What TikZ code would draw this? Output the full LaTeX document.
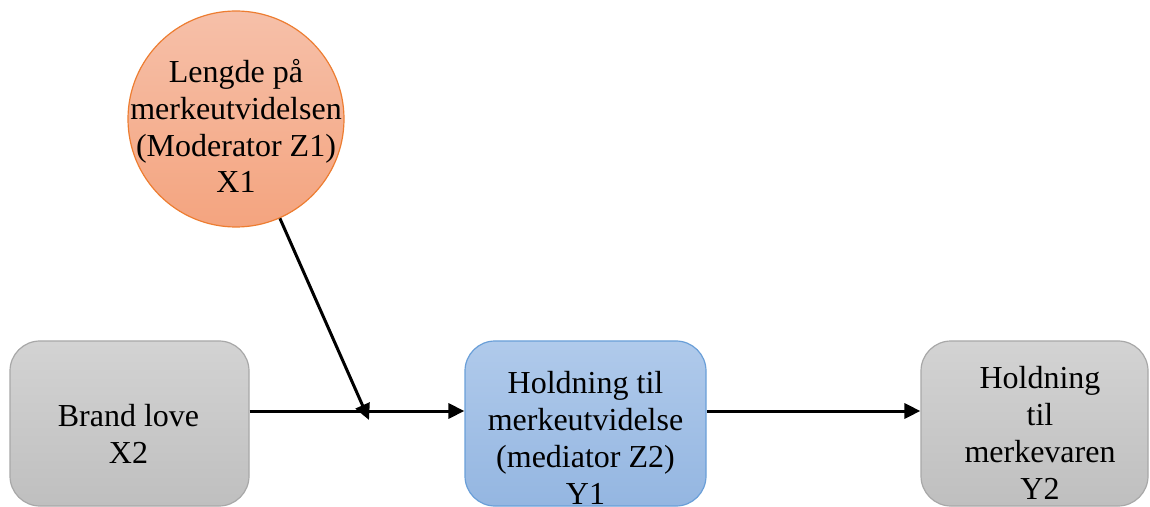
\documentclass[tikz,border=0pt]{standalone}
\usepackage{fontspec}
\setmainfont{Liberation Serif}
\usetikzlibrary{arrows.meta}

\definecolor{orangeline}{HTML}{ED7D31}
\definecolor{orangetop}{HTML}{F6C0A9}
\definecolor{orangebot}{HTML}{F4A47F}
\definecolor{grayline}{HTML}{A8A8A8}
\definecolor{graytop}{HTML}{D3D3D3}
\definecolor{graybot}{HTML}{BFBFBF}
\definecolor{blueline}{HTML}{6A9FD8}
\definecolor{bluetop}{HTML}{B0CAEB}
\definecolor{bluebot}{HTML}{94B6E1}

\tikzset{
  moderator/.style={circle, draw=orangeline, line width=0.6pt,
    top color=orangetop, bottom color=orangebot, minimum size=108pt, inner sep=0pt},
  graybox/.style={rectangle, rounded corners=15pt, draw=grayline, line width=0.6pt,
    top color=graytop, bottom color=graybot, minimum height=82.5pt, inner sep=0pt},
  bluebox/.style={rectangle, rounded corners=15pt, draw=blueline, line width=0.6pt,
    top color=bluetop, bottom color=bluebot, minimum height=82.5pt, inner sep=0pt},
  % anchored at the baseline of the last line
  label text/.style={align=center, inner sep=0pt, anchor=base,
    font=\fontsize{16}{18.4}\selectfont},
  arr/.style={line width=1.5pt, -{Triangle[length=8pt,width=7.5pt]}}
}

\begin{document}
\begin{tikzpicture}[x=0.5pt, y=-0.5pt]
  \useasboundingbox (0,0) rectangle (1150,507);
  \clip (0,0) rectangle (1150,507);

  % moderator circle
  \node[moderator] (x1) at (236,119) {};
  \node[label text] (x1t) at (236,193)
    {Lengde på\\merkeutvidelsen\\(Moderator Z1)\\X1};

  % boxes
  \node[graybox, minimum width=119.5pt] (x2) at (129.5,423.5) {};
  \node[label text] (x2t) at (128.5,463.5) {Brand love\\X2};

  \node[bluebox, minimum width=120.5pt] (y1) at (585.5,423.5) {};
  \node[label text] (y1t) at (585.5,504)
    {Holdning til\\merkeutvidelse\\(mediator Z2)\\Y1};

  \node[graybox, minimum width=113.5pt] (y2) at (1034.5,423.5) {};
  \node[label text] (y2t) at (1040,499) {Holdning\\til\\merkevaren\\Y2};

  % connectors
  \coordinate (h) at (0,411);
  \coordinate (j) at (369,420);
  \draw[arr] (x2.east |- h) -- (y1.west |- h);
  \draw[arr] (y1.east |- h) -- (y2.west |- h);
  \draw[arr] (x1) -- (j);
\end{tikzpicture}
\end{document}
